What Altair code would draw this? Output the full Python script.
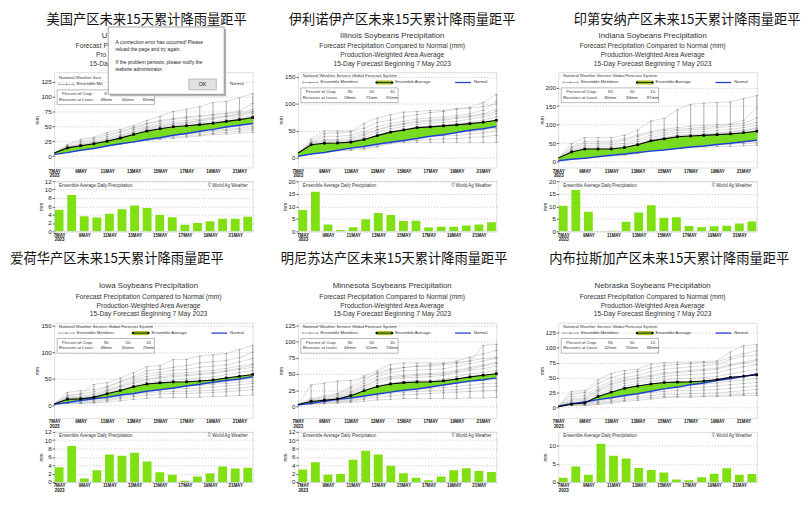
import altair as alt
import pandas as pd

DAYS = list(range(7, 23))
X_TICKS = [7, 9, 11, 13, 15, 17, 19, 21]
CROP_PCT = ["90", "50", "10"]
EN_SUB = ["Forecast Precipitation Compared to Normal (mm)",
          "Production-Weighted Area Average",
          "15-Day Forecast Beginning 7 May 2023"]
# parts of the US panel texts left visible beside the error dialog
US_VISIBLE = ["U", "Forecast P", "Pro", "15-Da"]
POPUP_LINES = ["A connection error has occurred! Please",
               "reload the page and try again.",
               "If the problem persists, please notify the",
               "website administrator."]

# ---------------- US ----------------
US_CN = "美国产区未来15天累计降雨量距平"
US_EN = "US Soybeans Precipitation"
US_DAILY = [5.2, 8.7, 3.6, 3.3, 4.2, 5.3, 6.2, 5.6, 3.9, 3.4, 1.6, 2.0, 2.4, 3.0, 3.0, 3.5]
US_NORMAL = [3, 6, 10, 13, 17, 21, 24, 28, 31, 35, 38, 42, 45, 49, 52, 55]
US_CROP = ["48mm", "64mm", "82mm"]
US_YTICKS = [0, 25, 50, 75, 100, 125]
US_YRANGE = [-19, 141]
US_BTICKS = [0, 2, 4, 6, 8, 10, 12]
US_BRANGE = [0, 12]
US_MEMBERS = [
    [5, 20, 28, 32, 40, 45, 51, 60, 67, 75, 79, 83, 90, 92, 98, 105],
    [5, 18, 25, 30, 36, 42, 48, 55, 60, 63, 66, 68, 70, 72, 76, 88],
    [4, 16, 22, 27, 33, 40, 47, 54, 58, 62, 64, 66, 69, 72, 74, 78],
    [5, 15, 20, 24, 30, 36, 44, 50, 55, 58, 60, 62, 65, 68, 72, 75],
    [4, 14, 19, 23, 28, 34, 41, 48, 52, 55, 57, 59, 62, 66, 68, 72],
    [5, 15, 18, 22, 26, 32, 38, 44, 48, 52, 54, 56, 58, 62, 65, 68],
    [4, 13, 17, 20, 24, 29, 35, 40, 45, 48, 50, 52, 55, 58, 61, 64],
    [5, 14, 16, 19, 23, 27, 33, 38, 42, 45, 47, 49, 52, 55, 58, 60],
    [4, 12, 15, 18, 21, 26, 31, 36, 40, 42, 44, 46, 49, 52, 55, 57],
    [5, 13, 17, 20, 22, 25, 29, 34, 37, 40, 42, 44, 46, 49, 51, 54],
    [4, 11, 14, 17, 20, 23, 27, 31, 35, 37, 39, 41, 43, 45, 47, 50],
    [4, 12, 15, 18, 20, 22, 25, 29, 32, 35, 37, 39, 41, 43, 45, 47],
    [3, 10, 13, 16, 19, 21, 24, 27, 30, 32, 34, 36, 38, 40, 42, 44],
    [4, 11, 14, 16, 18, 20, 23, 26, 28, 30, 32, 34, 36, 37, 39, 40],
    [5, 13, 18, 21, 26, 33, 40, 46, 50, 54, 56, 60, 64, 67, 70, 74],
]

# ---------------- Illinois ----------------
IL_CN = "伊利诺伊产区未来15天累计降雨量距平"
IL_EN = "Illinois Soybeans Precipitation"
IL_DAILY = [8.5, 15.8, 2.7, 0.5, 1.6, 4.8, 7.3, 6.5, 4.1, 4.2, 1.5, 1.8, 1.8, 2.3, 2.7, 3.6]
IL_NORMAL = [3, 7, 10, 14, 18, 21, 25, 29, 32, 36, 40, 43, 47, 51, 54, 58]
IL_CROP = ["58mm", "71mm", "81mm"]
IL_YTICKS = [0, 50, 100, 150]
IL_YRANGE = [-18, 159]
IL_BTICKS = [0, 5, 10, 15, 20]
IL_BRANGE = [0, 20]
IL_MEMBERS = [
    [8, 30, 45, 46, 48, 64, 74, 80, 85, 86, 88, 88, 92, 92, 95, 100],
    [9, 35, 50, 50, 50, 55, 66, 70, 76, 80, 84, 86, 90, 94, 103, 118],
    [8, 28, 40, 40, 42, 48, 58, 64, 68, 72, 74, 76, 78, 82, 88, 105],
    [9, 26, 32, 32, 34, 42, 52, 60, 64, 68, 70, 72, 75, 78, 82, 90],
    [8, 25, 30, 30, 32, 38, 47, 54, 58, 62, 64, 66, 68, 72, 76, 82],
    [8, 22, 27, 27, 29, 34, 42, 48, 53, 57, 59, 61, 63, 66, 70, 76],
    [9, 24, 28, 28, 30, 35, 40, 45, 50, 54, 56, 58, 60, 62, 64, 68],
    [8, 20, 22, 23, 25, 30, 37, 43, 47, 50, 52, 54, 56, 58, 60, 64],
    [8, 18, 20, 21, 23, 28, 34, 40, 44, 47, 48, 50, 52, 54, 56, 60],
    [9, 16, 18, 18, 20, 24, 30, 36, 40, 42, 44, 45, 47, 49, 52, 55],
    [8, 14, 16, 16, 18, 22, 27, 32, 36, 38, 40, 41, 42, 44, 46, 50],
    [8, 12, 14, 14, 15, 18, 22, 26, 30, 32, 34, 35, 36, 38, 39, 42],
    [8, 12, 13, 13, 14, 16, 20, 28, 28, 28, 28, 28, 28, 28, 28, 28],
    [9, 28, 34, 34, 38, 44, 52, 58, 62, 66, 68, 70, 73, 76, 80, 86],
]

# ---------------- Indiana ----------------
IN_CN = "印第安纳产区未来15天累计降雨量距平"
IN_EN = "Indiana Soybeans Precipitation"
IN_DAILY = [10.2, 16.5, 7.8, 0.1, 0.2, 3.8, 7.5, 10.4, 5.4, 5.6, 2.1, 1.6, 2.0, 2.2, 3.1, 3.9]
IN_NORMAL = [3, 7, 10, 14, 18, 21, 25, 29, 32, 36, 40, 43, 47, 50, 54, 58]
IN_CROP = ["80mm", "84mm", "87mm"]
IN_YTICKS = [0, 50, 100, 150, 200]
IN_YRANGE = [-15, 241]
IN_BTICKS = [0, 5, 10, 15, 20]
IN_BRANGE = [0, 20]
IN_MEMBERS = [
    [10, 50, 65, 65, 65, 72, 86, 110, 117, 140, 155, 158, 160, 161, 170, 178],
    [11, 40, 55, 55, 56, 62, 72, 82, 88, 92, 96, 98, 100, 102, 112, 145],
    [10, 38, 50, 50, 52, 58, 68, 78, 84, 88, 90, 93, 96, 100, 104, 118],
    [10, 34, 45, 45, 46, 50, 60, 72, 78, 84, 86, 88, 92, 95, 98, 106],
    [10, 30, 40, 40, 41, 45, 54, 66, 72, 78, 80, 82, 85, 88, 92, 98],
    [9, 28, 36, 36, 37, 40, 48, 60, 66, 72, 74, 76, 78, 82, 86, 92],
    [10, 25, 32, 32, 33, 36, 44, 54, 60, 66, 68, 70, 72, 74, 78, 86],
    [9, 22, 28, 28, 29, 32, 40, 50, 56, 62, 64, 66, 68, 70, 72, 78],
    [10, 20, 26, 26, 27, 30, 36, 46, 52, 56, 58, 60, 62, 64, 67, 72],
    [9, 18, 22, 22, 23, 26, 32, 42, 48, 52, 54, 56, 57, 59, 62, 66],
    [10, 16, 20, 20, 21, 24, 29, 38, 44, 48, 50, 51, 53, 55, 57, 60],
    [9, 14, 17, 17, 18, 20, 25, 34, 38, 42, 44, 45, 46, 48, 50, 52],
    [9, 12, 15, 15, 16, 18, 22, 30, 34, 37, 38, 40, 41, 42, 43, 45],
    [10, 27, 34, 34, 35, 38, 46, 58, 64, 70, 72, 74, 76, 80, 84, 90],
]

# ---------------- Iowa ----------------
IA_CN = "爱荷华产区未来15天累计降雨量距平"
IA_EN = "Iowa Soybeans Precipitation"
IA_DAILY = [3.5, 8.6, 0.8, 2.8, 6.6, 6.3, 7.0, 4.9, 2.3, 1.7, 0.3, 1.3, 2.1, 3.7, 3.2, 3.4]
IA_NORMAL = [3, 6, 10, 13, 16, 20, 23, 27, 30, 33, 37, 40, 44, 47, 50, 54]
IA_CROP = ["48mm", "60mm", "70mm"]
IA_YTICKS = [0, 50, 100, 150]
IA_YRANGE = [-23, 155]
IA_BTICKS = [0, 2, 4, 6, 8, 10, 12]
IA_BRANGE = [0, 12]
IA_MEMBERS = [
    [3, 18, 22, 40, 43, 52, 62, 73, 75, 86, 87, 93, 95, 98, 105, 113],
    [4, 25, 28, 30, 36, 45, 55, 65, 68, 72, 75, 80, 82, 85, 90, 100],
    [3, 20, 22, 26, 34, 44, 52, 60, 62, 66, 68, 72, 74, 76, 82, 88],
    [4, 16, 18, 22, 30, 38, 48, 55, 58, 60, 62, 64, 66, 70, 74, 78],
    [3, 14, 15, 18, 26, 34, 42, 48, 52, 54, 56, 58, 60, 64, 68, 72],
    [4, 12, 13, 16, 24, 30, 38, 44, 46, 48, 50, 52, 54, 58, 62, 66],
    [3, 10, 11, 14, 20, 26, 34, 40, 42, 44, 44, 46, 48, 52, 55, 58],
    [3, 8, 9, 12, 18, 22, 28, 34, 36, 38, 38, 40, 42, 45, 48, 52],
    [4, 12, 13, 15, 20, 24, 30, 34, 36, 37, 37, 38, 40, 42, 44, 46],
    [3, 6, 7, 10, 14, 18, 24, 28, 30, 32, 32, 33, 35, 37, 39, 42],
    [3, 5, 6, 8, 12, 16, 20, 24, 26, 27, 27, 28, 29, 31, 33, 36],
    [3, 4, 5, 6, 10, 13, 17, 20, 22, 23, 23, 24, 25, 26, 28, 30],
    [3, 4, 4, 5, 7, 9, 12, 14, 15, 15, 15, 16, 17, 18, 19, 20],
    [4, 15, 16, 20, 28, 36, 44, 50, 54, 57, 58, 60, 62, 66, 70, 76],
]

# ---------------- Minnesota ----------------
MN_CN = "明尼苏达产区未来15天累计降雨量距平"
MN_EN = "Minnesota Soybeans Precipitation"
MN_DAILY = [3.0, 4.7, 1.7, 1.9, 5.3, 7.5, 6.6, 3.9, 2.1, 1.0, 0.4, 1.3, 2.8, 3.3, 2.6, 2.4]
MN_NORMAL = [2, 5, 8, 11, 13, 16, 19, 22, 25, 27, 30, 33, 36, 39, 41, 44]
MN_CROP = ["46mm", "52mm", "59mm"]
MN_YTICKS = [0, 25, 50, 75, 100, 125]
MN_YRANGE = [-18, 129]
MN_BTICKS = [0, 2, 4, 6, 8, 10, 12]
MN_BRANGE = [0, 12]
MN_MEMBERS = [
    [3, 33, 36, 39, 40, 44, 50, 56, 60, 62, 64, 66, 68, 70, 94, 96],
    [3, 12, 16, 20, 30, 47, 55, 65, 67, 67, 67, 67, 70, 76, 81, 86],
    [3, 10, 14, 18, 28, 40, 52, 58, 60, 62, 62, 64, 66, 70, 74, 76],
    [3, 9, 12, 16, 24, 36, 46, 52, 55, 56, 57, 58, 62, 66, 70, 74],
    [3, 8, 11, 14, 22, 32, 42, 46, 48, 50, 51, 52, 56, 60, 64, 68],
    [3, 7, 10, 12, 18, 28, 36, 42, 44, 45, 46, 48, 52, 56, 58, 62],
    [3, 6, 9, 11, 16, 24, 32, 36, 38, 40, 40, 42, 46, 50, 52, 55],
    [3, 7, 8, 10, 15, 22, 28, 32, 34, 35, 36, 38, 40, 44, 46, 48],
    [3, 5, 7, 9, 12, 18, 24, 28, 30, 31, 32, 33, 36, 38, 40, 42],
    [3, 5, 6, 8, 10, 15, 20, 24, 26, 27, 28, 29, 31, 33, 35, 36],
    [3, 4, 5, 7, 9, 13, 17, 20, 22, 23, 24, 25, 26, 28, 30, 31],
    [3, 4, 5, 6, 8, 11, 14, 16, 18, 19, 20, 21, 22, 23, 24, 25],
    [3, 3, 4, 5, 6, 8, 10, 11, 12, 12, 12, 12, 12, 13, 13, 14],
    [3, 8, 10, 13, 20, 30, 40, 44, 46, 48, 49, 50, 54, 58, 62, 66],
]

# ---------------- Nebraska ----------------
NE_CN = "内布拉斯加产区未来15天累计降雨量距平"
NE_EN = "Nebraska Soybeans Precipitation"
NE_DAILY = [1.2, 4.3, 2.0, 10.6, 7.3, 6.5, 3.9, 3.3, 2.6, 0.7, 0.5, 1.3, 2.3, 3.8, 2.0, 2.2]
NE_NORMAL = [2, 6, 9, 13, 16, 20, 23, 27, 31, 34, 38, 41, 45, 48, 52, 56]
NE_CROP = ["42mm", "55mm", "68mm"]
NE_YTICKS = [0, 25, 50, 75, 100, 125]
NE_YRANGE = [-18, 142]
NE_BTICKS = [0, 5, 10]
NE_BRANGE = [0, 13.9]
NE_MEMBERS = [
    [2, 27, 28, 46, 57, 62, 64, 73, 75, 76, 76, 77, 78, 93, 104, 105],
    [2, 22, 25, 40, 50, 56, 60, 66, 70, 72, 74, 75, 76, 84, 90, 95],
    [2, 18, 20, 34, 44, 50, 54, 60, 64, 66, 68, 70, 72, 80, 86, 88],
    [2, 14, 16, 30, 40, 46, 50, 54, 58, 60, 62, 64, 66, 72, 76, 80],
    [2, 10, 12, 26, 34, 40, 44, 48, 52, 54, 55, 56, 58, 64, 68, 72],
    [2, 8, 10, 22, 30, 36, 40, 44, 46, 48, 48, 50, 52, 56, 60, 64],
    [2, 6, 8, 18, 26, 32, 36, 40, 42, 43, 43, 44, 46, 50, 52, 56],
    [2, 5, 7, 15, 22, 28, 32, 35, 37, 38, 38, 39, 41, 44, 46, 48],
    [2, 4, 6, 12, 18, 23, 27, 30, 32, 33, 33, 34, 36, 38, 40, 42],
    [2, 4, 5, 10, 14, 18, 22, 25, 27, 28, 28, 29, 30, 32, 34, 36],
    [2, 3, 4, 8, 11, 15, 18, 20, 22, 22, 23, 23, 24, 26, 28, 30],
    [2, 3, 3, 6, 9, 12, 15, 17, 18, 18, 19, 19, 20, 21, 22, 24],
    [2, 3, 3, 5, 7, 10, 12, 14, 16, 17, 17, 18, 18, 19, 20, 20],
    [2, 12, 14, 28, 38, 44, 48, 52, 56, 58, 60, 62, 64, 70, 74, 78],
]

# ---------------- styling / layout ----------------
FONT = "Liberation Sans"
NARROW = "Liberation Sans Narrow, Liberation Sans"
CJK = "Noto Sans CJK SC"
GREEN = "#77dc1f"
BAR_GREEN = "#80e012"
BLUE = "#1f3fd8"
W, HM, HB, GAP = 202, 97, 51, 14
ONE = pd.DataFrame({"k": [0]})

ROWS = [dict(T=-60, cy=-60, bottom=HB + 18), dict(T=-72, cy=-71.5, bottom=HB + 8)]


def text(s, x, y, size=4.3, align="left", color="#333", font=FONT, weight="normal",
         baseline="middle"):
    return alt.Chart(ONE).mark_text(
        text=s, align=align, baseline=baseline, fontSize=size, font=font,
        color=color, fontWeight=weight
    ).encode(x=alt.value(x), y=alt.value(y))


def hrule(x1, x2, y, color, width):
    return alt.Chart(ONE).mark_rule(color=color, strokeWidth=width).encode(
        x=alt.value(x1), x2=alt.value(x2), y=alt.value(y))


def vrule(x, y1, y2, color, width):
    return alt.Chart(ONE).mark_rule(color=color, strokeWidth=width).encode(
        x=alt.value(x), y=alt.value(y1), y2=alt.value(y2))


def rect(x1, x2, y1, y2, fill, stroke=None, sw=0.0, opacity=1.0):
    kw = dict(fill=fill, opacity=opacity)
    if stroke:
        kw.update(stroke=stroke, strokeWidth=sw)
    return alt.Chart(ONE).mark_rect(**kw).encode(
        x=alt.value(x1), x2=alt.value(x2), y=alt.value(y1), y2=alt.value(y2))


XAXIS = alt.Axis(
    values=X_TICKS,
    labelExpr="datum.value == 7 ? ['7MAY', '2023'] : datum.value + 'MAY'",
    grid=False, ticks=False, domain=False, labelFontSize=4.5, labelFont=NARROW,
    labelFontWeight="bold", labelColor="#111", labelPadding=1, labelLineHeight=4.5,
    labelFlush=False, labelOverlap=False, labelBaseline="top", title=None)
XSCALE = alt.Scale(domain=[7, 22], nice=False, zero=False)


def yaxis(vals):
    return alt.Axis(
        values=vals, title="mm", titleFontSize=5, titleFont=FONT, titleFontWeight="normal",
        titleColor="#333", titlePadding=1, labelFontSize=6.3, labelFont=NARROW,
        labelColor="#222", labelPadding=1, tickSize=2, tickColor="#555", domain=False,
        grid=True, gridColor="#9a9a9a", gridDash=[1, 2], gridWidth=0.6, labelOverlap=False)


def legend_layers(crop, dy, covered=False):
    y2 = 10.5 + dy
    out = [
        text("National Weather Serv" if covered else
             "National Weather Service Global Forecast System", 5, 4 + dy),
        hrule(5, 20, y2, "#777", 0.6), vrule(5, y2 - 1.2, y2 + 1.2, "#777", 0.6),
        vrule(12.5, y2 - 1.2, y2 + 1.2, "#777", 0.6), vrule(20, y2 - 1.2, y2 + 1.2, "#777", 0.6),
        text("Ensemble Me" if covered else "Ensemble Members", 23, y2),
        text("Normal", 179, y2),
        rect(3, 102, 16 + dy, 31 + dy, "#fff", "#888", 0.6),
        text("Percent of Crop:", 8, 20.5 + dy),
        text("Receives at Least:", 5, 26 + dy),
    ]
    if not covered:
        out += [
            hrule(80, 96, y2, "#eaa43c", 4.2), hrule(80, 96, y2, GREEN, 2.6),
            hrule(80, 96, y2, "#000", 0.8),
            rect(79, 81, y2 - 1, y2 + 1, "#000"), rect(95, 97, y2 - 1, y2 + 1, "#000"),
            text("Ensemble Average", 99, y2),
            hrule(160, 176, y2, BLUE, 1.3),
        ]
    for x, p, c in zip([53, 75, 96], CROP_PCT, crop):
        if not covered:
            out.append(text(p, x, 20.5 + dy, align="center"))
        out.append(text(c, x, 26 + dy, align="center"))
    if covered:
        out.append(text(CROP_PCT[0][0], 51, 20.5 + dy))
    return out


def popup_layers():
    return [
        rect(57, 175, -44, 24.5, "#b5b5b5"),
        rect(55, 173, -46, 22.5, "#ffffff", "#8c8c8c", 0.8),
        text(POPUP_LINES[0], 62.5, -31, 5, color="#222"),
        text(POPUP_LINES[1], 62.5, -24, 5, color="#222"),
        text(POPUP_LINES[2], 62.5, -10, 5, color="#222"),
        text(POPUP_LINES[3], 62.5, -3, 5, color="#222"),
        rect(137, 165, 7, 18, "#e1e1e1", "#adadad", 0.8),
        text("OK", 151, 12.5, 5.5, align="center", color="#222"),
    ]


def panel(cn, en, daily, normal, members, crop, ytk, yrange, btk, brange,
          cx, L, R, row, ldy=0.0, popup=False):
    rp = ROWS[row]
    base = pd.DataFrame({"day": DAYS, "daily": daily, "normal": normal})
    mem = pd.DataFrame([{"member": i, "day": d, "value": v}
                        for i, m in enumerate(members) for d, v in zip(DAYS, m)])
    xenc = alt.X("day:Q", scale=XSCALE, axis=XAXIS)
    ysc = alt.Scale(domain=yrange, nice=False, zero=False)
    yax = yaxis(ytk)

    def Y(f):
        return alt.Y(f, scale=ysc, axis=yax)

    cum = alt.Chart(base).transform_window(
        avg="sum(daily)", sort=[alt.SortField(field="day", order="ascending")], frame=[None, 0])

    layers = [
        rect(L, R, rp["T"], rp["T"] + 1, "#ffffff", opacity=0),
        alt.Chart(mem).mark_line(color="#c4c4c4", strokeWidth=0.6).encode(
            x=xenc, y=Y("value:Q"), detail="member:N"),
        alt.Chart(mem).transform_filter("datum.day > 7").mark_rule(
            color="#8a8a8a", strokeWidth=0.7).encode(
            x=xenc, y=Y("min(value):Q"), y2=alt.Y2("max(value)")),
        alt.Chart(mem).transform_filter("datum.day > 7").mark_tick(
            orient="horizontal", size=3, thickness=0.6, color="#777").encode(
            x=xenc, y=Y("value:Q")),
        cum.mark_area(color=GREEN, opacity=1).encode(
            x=xenc, y=Y("avg:Q"), y2=alt.Y2("normal")),
        alt.Chart(base).mark_line(color=BLUE, strokeWidth=1.5).encode(
            x=xenc, y=Y("normal:Q")),
        cum.mark_line(color="#000", strokeWidth=1.1).encode(x=xenc, y=Y("avg:Q")),
        cum.transform_filter("datum.day > 7").mark_square(
            size=7, color="#000", opacity=1).encode(x=xenc, y=Y("avg:Q")),
    ]
    layers += legend_layers(crop, ldy, covered=popup)
    if popup:
        # full lines centred at x=96; only their left parts show beside the dialog
        layers += [
            text(US_VISIBLE[0], 48.5, -37, 8, color="#333"),
            text(US_VISIBLE[1], 21.8, -26.5, 6.8, color="#333"),
            text(US_VISIBLE[2], 42.5, -17.5, 6.8, color="#333"),
            text(US_VISIBLE[3], 36, -8.5, 6.8, color="#333"),
        ]
    else:
        layers += [
            text(en, 96, -37, 8, align="center", color="#333"),
            text(EN_SUB[0], 96, -26.5, 6.8, align="center", color="#333"),
            text(EN_SUB[1], 96, -17.5, 6.8, align="center", color="#333"),
            text(EN_SUB[2], 96, -8.5, 6.8, align="center", color="#333"),
        ]
    layers.append(text(cn, cx, rp["cy"], 13.5, align="center", color="#111", font=CJK,
                       baseline="top"))
    if popup:
        layers += popup_layers()
    main = alt.layer(*layers).properties(width=W, height=HM)

    bars = alt.layer(
        rect(0, 1, rp["bottom"], rp["bottom"] + 1, "#ffffff", opacity=0),
        alt.Chart(base).mark_bar(size=9, clip=True, color=BAR_GREEN).encode(
            x=xenc,
            y=alt.Y("daily:Q", scale=alt.Scale(domain=brange, nice=False, zero=True),
                    axis=yaxis(btk))),
        text("Ensemble Average Daily Precipitation", 5, 4.5, 4.5),
        text("\u00a9 World Ag Weather", 197, 4.5, 4.5, align="right"),
    ).properties(width=W, height=HB)

    return alt.vconcat(main, bars, spacing=GAP, bounds="flush")


p1 = panel(US_CN, US_EN, US_DAILY, US_NORMAL, US_MEMBERS, US_CROP, US_YTICKS, US_YRANGE,
           US_BTICKS, US_BRANGE, cx=94, L=-46, R=204, row=0, ldy=2, popup=True)
p2 = panel(IL_CN, IL_EN, IL_DAILY, IL_NORMAL, IL_MEMBERS, IL_CROP, IL_YTICKS, IL_YRANGE,
           IL_BTICKS, IL_BRANGE, cx=106, L=-20, R=222, row=0)
p3 = panel(IN_CN, IN_EN, IN_DAILY, IN_NORMAL, IN_MEMBERS, IN_CROP, IN_YTICKS, IN_YRANGE,
           IN_BTICKS, IN_BRANGE, cx=131, L=-20, R=247, row=0)
p4 = panel(IA_CN, IA_EN, IA_DAILY, IA_NORMAL, IA_MEMBERS, IA_CROP, IA_YTICKS, IA_YRANGE,
           IA_BTICKS, IA_BRANGE, cx=64, L=-46, R=204, row=1)
p5 = panel(MN_CN, MN_EN, MN_DAILY, MN_NORMAL, MN_MEMBERS, MN_CROP, MN_YTICKS, MN_YRANGE,
           MN_BTICKS, MN_BRANGE, cx=98, L=-20, R=222, row=1)
p6 = panel(NE_CN, NE_EN, NE_DAILY, NE_NORMAL, NE_MEMBERS, NE_CROP, NE_YTICKS, NE_YRANGE,
           NE_BTICKS, NE_BRANGE, cx=113, L=-20, R=247, row=1)

col1 = alt.vconcat(p1, p4, spacing=0)
col2 = alt.vconcat(p2, p5, spacing=0)
col3 = alt.vconcat(p3, p6, spacing=0)

chart = alt.hconcat(col1, col2, col3, spacing=21).properties(
    padding=0, background="#ffffff"
).configure_view(stroke="#808080", strokeWidth=0.8).configure(font=FONT)

chart.save("out.html", embed_options={"renderer": "svg", "actions": False})
